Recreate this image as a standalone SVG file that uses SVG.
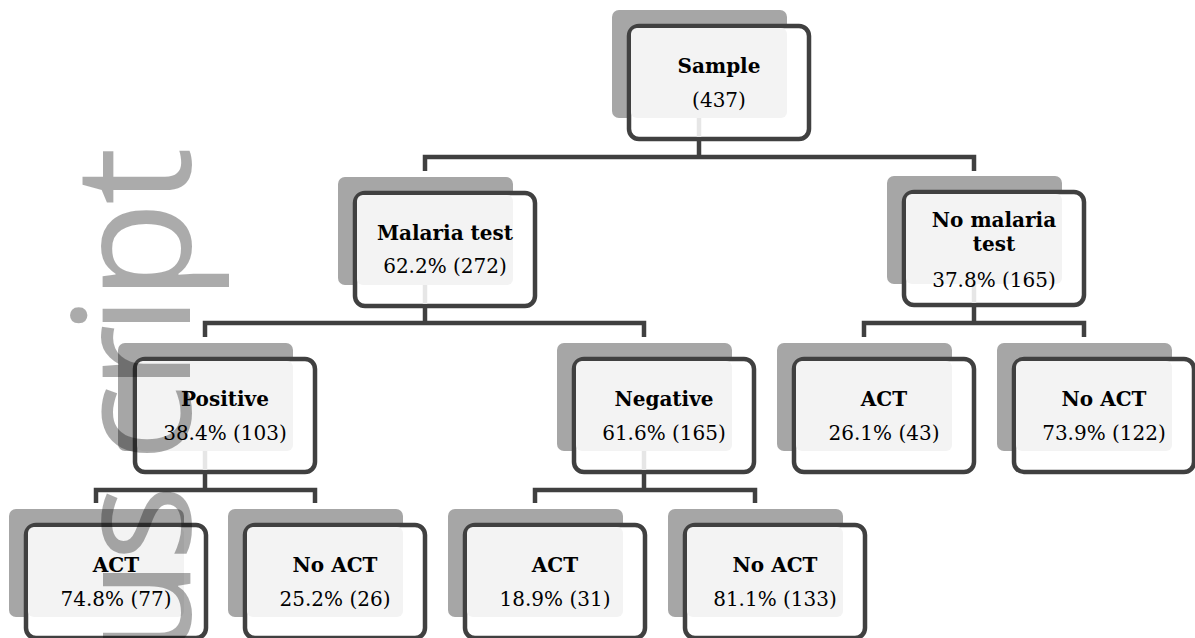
<svg xmlns="http://www.w3.org/2000/svg" width="1195" height="638" viewBox="0 0 1195 638">
<style>
.sh{fill:#a6a6a6}
.bx{fill:#ffffff;stroke:#404040;stroke-width:4.5}
.pn{fill:#f3f3f3}
.stub{stroke:#e6e6e6;stroke-width:4.5}
.t{font-family:"DejaVu Serif","Liberation Serif",serif;font-size:20px;fill:#000;text-anchor:middle}
.b{font-weight:bold}
.cn{fill:none;stroke:#404040;stroke-width:4.5;stroke-linejoin:miter;stroke-linecap:butt}
.wm{font-family:"Open Sans",sans-serif;font-size:163px;fill:#000;fill-opacity:0.33}
</style>
<rect width="1195" height="638" fill="#fff"/>
<g id="connectors">
<path class="cn" d="M699,139 V157"/>
<path class="cn" d="M425,171 V157 H974 V171"/>
<path class="cn" d="M425,306 V323"/>
<path class="cn" d="M205,337 V323 H644 V337"/>
<path class="cn" d="M974,305 V323"/>
<path class="cn" d="M864,337 V323 H1084 V337"/>
<path class="cn" d="M205,472 V490"/>
<path class="cn" d="M96,503 V490 H315 V503"/>
<path class="cn" d="M644,472 V490"/>
<path class="cn" d="M535,503 V490 H755 V503"/>
</g>
<g id="sample">
<rect class="sh" x="612" y="10" width="175" height="108" rx="7"/>
<rect class="bx" x="629" y="26" width="180" height="113" rx="10"/>
<rect class="pn" x="631" y="28" width="156" height="90" rx="6"/>
<line class="stub" x1="699" y1="118" x2="699" y2="137"/>
<text class="t b" x="719" y="73">Sample</text>
<text class="t" x="719" y="107">(437)</text>
</g>
<g id="malaria-test">
<rect class="sh" x="338" y="177" width="175" height="108" rx="7"/>
<rect class="bx" x="355" y="193" width="180" height="113" rx="10"/>
<rect class="pn" x="357" y="195" width="156" height="90" rx="6"/>
<line class="stub" x1="425" y1="285" x2="425" y2="304"/>
<text class="t b" x="445" y="240">Malaria test</text>
<text class="t" x="445" y="273">62.2% (272)</text>
</g>
<g id="no-malaria-test">
<rect class="sh" x="887" y="176" width="175" height="108" rx="7"/>
<rect class="bx" x="904" y="192" width="180" height="113" rx="10"/>
<rect class="pn" x="906" y="194" width="156" height="90" rx="6"/>
<line class="stub" x1="974" y1="284" x2="974" y2="303"/>
<text class="t b" x="994" y="227">No malaria</text>
<text class="t b" x="994" y="251">test</text>
<text class="t" x="994" y="287">37.8% (165)</text>
</g>
<g id="positive">
<rect class="sh" x="118" y="343" width="175" height="108" rx="7"/>
<rect class="bx" x="135" y="359" width="180" height="113" rx="10"/>
<rect class="pn" x="137" y="361" width="156" height="90" rx="6"/>
<line class="stub" x1="205" y1="451" x2="205" y2="470"/>
<text class="t b" x="225" y="406">Positive</text>
<text class="t" x="225" y="440">38.4% (103)</text>
</g>
<g id="negative">
<rect class="sh" x="557" y="343" width="175" height="108" rx="7"/>
<rect class="bx" x="574" y="359" width="180" height="113" rx="10"/>
<rect class="pn" x="576" y="361" width="156" height="90" rx="6"/>
<line class="stub" x1="644" y1="451" x2="644" y2="470"/>
<text class="t b" x="664" y="406">Negative</text>
<text class="t" x="664" y="440">61.6% (165)</text>
</g>
<g id="nm-act">
<rect class="sh" x="777" y="343" width="175" height="108" rx="7"/>
<rect class="bx" x="794" y="359" width="180" height="113" rx="10"/>
<rect class="pn" x="796" y="361" width="156" height="90" rx="6"/>
<text class="t b" x="884" y="406">ACT</text>
<text class="t" x="884" y="440">26.1% (43)</text>
</g>
<g id="nm-no-act">
<rect class="sh" x="997" y="343" width="175" height="108" rx="7"/>
<rect class="bx" x="1014" y="359" width="180" height="113" rx="10"/>
<rect class="pn" x="1016" y="361" width="156" height="90" rx="6"/>
<text class="t b" x="1104" y="406">No ACT</text>
<text class="t" x="1104" y="440">73.9% (122)</text>
</g>
<g id="pos-act">
<rect class="sh" x="9" y="509" width="175" height="108" rx="7"/>
<rect class="bx" x="26" y="525" width="180" height="113" rx="10"/>
<rect class="pn" x="28" y="527" width="156" height="90" rx="6"/>
<text class="t b" x="116" y="572">ACT</text>
<text class="t" x="116" y="606">74.8% (77)</text>
</g>
<g id="pos-no-act">
<rect class="sh" x="228" y="509" width="175" height="108" rx="7"/>
<rect class="bx" x="245" y="525" width="180" height="113" rx="10"/>
<rect class="pn" x="247" y="527" width="156" height="90" rx="6"/>
<text class="t b" x="335" y="572">No ACT</text>
<text class="t" x="335" y="606">25.2% (26)</text>
</g>
<g id="neg-act">
<rect class="sh" x="448" y="509" width="175" height="108" rx="7"/>
<rect class="bx" x="465" y="525" width="180" height="113" rx="10"/>
<rect class="pn" x="467" y="527" width="156" height="90" rx="6"/>
<text class="t b" x="555" y="572">ACT</text>
<text class="t" x="555" y="606">18.9% (31)</text>
</g>
<g id="neg-no-act">
<rect class="sh" x="668" y="509" width="175" height="108" rx="7"/>
<rect class="bx" x="685" y="525" width="180" height="113" rx="10"/>
<rect class="pn" x="687" y="527" width="156" height="90" rx="6"/>
<text class="t b" x="775" y="572">No ACT</text>
<text class="t" x="775" y="606">81.1% (133)</text>
</g>
<text class="wm" transform="translate(190,0) rotate(-90)" x="-659 -562 -462 -391 -336 -301 -205" y="0">uscript</text>
</svg>
